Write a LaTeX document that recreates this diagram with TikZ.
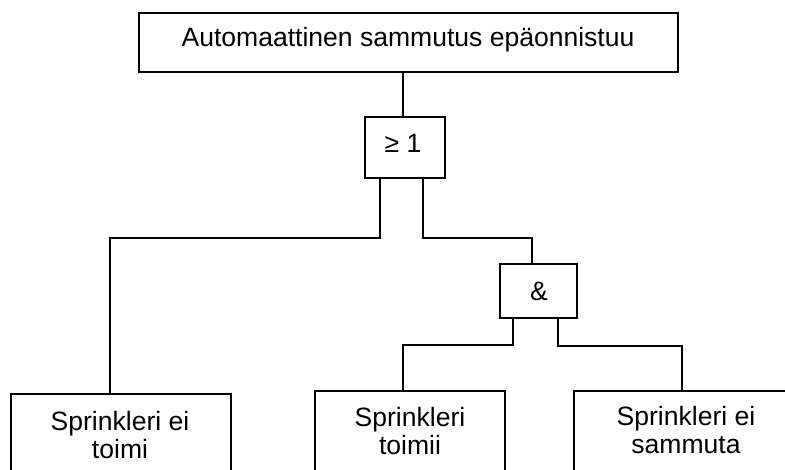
\documentclass[tikz,border=0pt]{standalone}
\usepackage{fontspec}
\setmainfont{Liberation Sans}
\usetikzlibrary{calc,fit}
\begin{document}
\begin{tikzpicture}[x=0.75pt,y=-0.75pt, line width=1.5pt,
  box/.style={draw, rectangle, inner sep=0pt},
  txt/.style={font=\fontsize{19.9}{20.8}\selectfont, align=center, inner sep=0pt}]
\useasboundingbox (0,0) rectangle (785,469);
\clip (0,0) rectangle (785,469);
% boxes
\coordinate (t1) at (138.7,12.7); \coordinate (t2) at (677.7,72.3);
\node[box, fit=(t1)(t2)] (top) {};
\coordinate (o1) at (364.7,117.3); \coordinate (o2) at (445.3,177.7);
\node[box, fit=(o1)(o2)] (gor) {};
\coordinate (a1) at (500.3,264); \coordinate (a2) at (577,318.3);
\node[box, fit=(a1)(a2)] (gand) {};
\coordinate (p1) at (11,394); \coordinate (p2) at (230.7,500);
\node[box, fit=(p1)(p2)] (b1) {};
\coordinate (q1) at (315,390.5); \coordinate (q2) at (505,500);
\node[box, fit=(q1)(q2)] (b2) {};
\coordinate (r1) at (574.3,390.5); \coordinate (r2) at (798,500);
\node[box, fit=(r1)(r2)] (b3) {};
% texts
\node[txt, anchor=base] (toptext) at (408,46.7) {Automaattinen sammutus epäonnistuu};
\node[txt, anchor=base] (ortext) at (403,152.3) {≥ 1};
\node[txt, anchor=base] (andtext) at (539,300) {\&};
\node[txt, anchor=base] (b1text) at (120,458) {Sprinkleri ei\\toimi};
\node[txt, anchor=base] (b2text) at (410,454) {Sprinkleri\\toimii};
\node[txt, anchor=base] (b3text) at (686,453) {Sprinkleri ei\\sammuta};
% connectors
\coordinate (c0) at (402.7,0);
\draw (top.south -| c0) -- (gor.north -| c0);
\coordinate (gl) at ($(gor.south west)!0.196!(gor.south east)$);
\coordinate (gr) at ($(gor.south west)!0.72!(gor.south east)$);
\coordinate (j1) at (110,238);
\coordinate (j2) at (532,238);
\draw (gl) |- (j1) -- (j1 |- b1.north);
\draw (gr) |- (j2) -- (j2 |- gand.north);
\coordinate (al) at ($(gand.south west)!0.17!(gand.south east)$);
\coordinate (ar) at ($(gand.south west)!0.74!(gand.south east)$);
\coordinate (j3) at (402.7,345);
\coordinate (j4) at (681.7,346);
\draw (al) |- (j3) -- (j3 |- b2.north);
\draw (ar) |- (j4) -- (j4 |- b3.north);
\end{tikzpicture}
\end{document}
